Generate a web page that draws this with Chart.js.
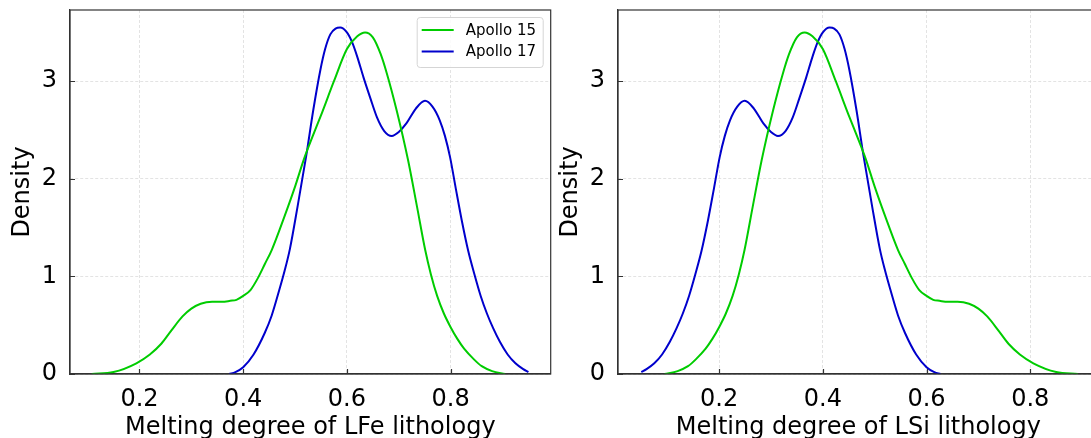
<!DOCTYPE html>
<html>
<head>
<meta charset="utf-8">
<script src="https://cdn.jsdelivr.net/npm/chart.js@4.4.1/dist/chart.umd.min.js"></script>
<style>
  html, body { margin: 0; padding: 0; background: #fff; }
  body { width: 1091px; height: 438px; overflow: hidden; position: relative; }
  .panel { position: absolute; top: 0; width: 560px; height: 438px; }
</style>
</head>
<body>
<div class="panel" style="left:0px"><canvas id="chart_lfe"></canvas></div>
<div class="panel" style="left:548px"><canvas id="chart_lsi"></canvas></div>
<script>
// density curves
var seriesNames = ['Apollo 15', 'Apollo 17'];
var seriesColors = ['#00cc00', '#0000cc'];

var lfeX15 = [0.108, 0.15, 0.194, 0.22, 0.242, 0.262, 0.283, 0.30, 0.318, 0.34, 0.359, 0.375, 0.387, 0.40, 0.414, 0.428, 0.442, 0.455, 0.48, 0.50, 0.517, 0.535, 0.55, 0.575, 0.60, 0.62, 0.635, 0.65, 0.665, 0.677, 0.696, 0.718, 0.735, 0.751, 0.762, 0.774, 0.787, 0.80, 0.813, 0.826, 0.845, 0.86, 0.88, 0.905];
var lfeY15 = [0, 0.02, 0.11, 0.2, 0.31, 0.45, 0.59, 0.67, 0.72, 0.74, 0.74, 0.75, 0.76, 0.80, 0.86, 0.98, 1.13, 1.27, 1.62, 1.92, 2.20, 2.45, 2.65, 3.0, 3.33, 3.46, 3.50, 3.45, 3.28, 3.08, 2.70, 2.19, 1.72, 1.27, 1.02, 0.80, 0.62, 0.48, 0.36, 0.26, 0.15, 0.08, 0.03, 0];

var lfeX17 = [0.373, 0.385, 0.40, 0.42, 0.4415, 0.455, 0.469, 0.48, 0.49, 0.505, 0.522, 0.535, 0.549, 0.558, 0.568, 0.578, 0.587, 0.60, 0.61, 0.62, 0.632, 0.645, 0.658, 0.672, 0.6865, 0.70, 0.715, 0.733, 0.7506, 0.765, 0.779, 0.789, 0.799, 0.81, 0.822, 0.834, 0.846, 0.858, 0.87, 0.882, 0.895, 0.91, 0.925, 0.94, 0.95];
var lfeY17 = [0, 0.02, 0.07, 0.2, 0.42, 0.60, 0.85, 1.06, 1.28, 1.72, 2.25, 2.70, 3.12, 3.33, 3.48, 3.54, 3.55, 3.50, 3.40, 3.25, 3.04, 2.83, 2.63, 2.49, 2.44, 2.48, 2.57, 2.72, 2.80, 2.74, 2.60, 2.44, 2.22, 1.90, 1.56, 1.26, 1.02, 0.80, 0.62, 0.47, 0.33, 0.20, 0.11, 0.05, 0.02];

var lsiX15 = [0.095, 0.12, 0.14, 0.155, 0.174, 0.187, 0.20, 0.213, 0.226, 0.238, 0.249, 0.265, 0.282, 0.304, 0.323, 0.335, 0.35, 0.365, 0.38, 0.40, 0.425, 0.45, 0.465, 0.483, 0.50, 0.52, 0.545, 0.558, 0.572, 0.586, 0.60, 0.613, 0.625, 0.641, 0.66, 0.682, 0.70, 0.717, 0.738, 0.758, 0.78, 0.806, 0.85, 0.892];
var lsiY15 = [0, 0.03, 0.08, 0.15, 0.26, 0.36, 0.48, 0.62, 0.80, 1.02, 1.27, 1.72, 2.19, 2.70, 3.08, 3.28, 3.45, 3.50, 3.46, 3.33, 3.0, 2.65, 2.45, 2.20, 1.92, 1.62, 1.27, 1.13, 0.98, 0.86, 0.80, 0.76, 0.75, 0.74, 0.74, 0.72, 0.67, 0.59, 0.45, 0.31, 0.2, 0.11, 0.02, 0];

var lsiX17 = [0.05, 0.06, 0.075, 0.09, 0.105, 0.118, 0.13, 0.142, 0.154, 0.166, 0.178, 0.19, 0.201, 0.211, 0.221, 0.235, 0.2494, 0.267, 0.285, 0.30, 0.3135, 0.328, 0.342, 0.355, 0.368, 0.38, 0.39, 0.40, 0.413, 0.422, 0.432, 0.442, 0.451, 0.465, 0.478, 0.495, 0.51, 0.52, 0.531, 0.545, 0.5585, 0.58, 0.60, 0.615, 0.627];
var lsiY17 = [0.02, 0.05, 0.11, 0.20, 0.33, 0.47, 0.62, 0.80, 1.02, 1.26, 1.56, 1.90, 2.22, 2.44, 2.60, 2.74, 2.80, 2.72, 2.57, 2.48, 2.44, 2.49, 2.63, 2.83, 3.04, 3.25, 3.40, 3.50, 3.55, 3.54, 3.48, 3.33, 3.12, 2.70, 2.25, 1.72, 1.28, 1.06, 0.85, 0.60, 0.42, 0.2, 0.07, 0.02, 0];

var xTickVals = [0.2, 0.4, 0.6, 0.8];
var yTickVals = [0, 1, 2, 3];

var FONT = "'DejaVu Sans', sans-serif";

function toPoints(xs, ys) {
    return xs.map(function(x, i) { return { x: x, y: ys[i] }; });
}

function makeDataset(i, xs, ys) {
    return {
        label: seriesNames[i],
        data: toPoints(xs, ys),
        borderColor: seriesColors[i],
        backgroundColor: seriesColors[i],
        borderWidth: 2,
        pointRadius: 0,
        fill: false,
        cubicInterpolationMode: 'monotone'
    };
}

// spines, inward ticks and the matplotlib-like legend
var framePlugin = {
    id: 'frame',
    afterDatasetsDraw: function(chart, args, opts) {
        var ctx = chart.ctx, a = chart.chartArea;
        var xs = chart.scales.x, ys = chart.scales.y;
        ctx.save();
        ctx.strokeStyle = '#333';
        ctx.lineWidth = 1.2;
        ctx.strokeRect(a.left, a.top, a.right - a.left, a.bottom - a.top);
        ctx.beginPath();
        xTickVals.forEach(function(v) {
            var px = Math.round(xs.getPixelForValue(v)) + 0.5;
            ctx.moveTo(px, a.bottom);
            ctx.lineTo(px, a.bottom - 5);
        });
        yTickVals.forEach(function(v) {
            var py = Math.round(ys.getPixelForValue(v)) + 0.5;
            ctx.moveTo(a.left, py);
            ctx.lineTo(a.left + 5, py);
        });
        ctx.stroke();

        if (opts.legend) {
            var bx = a.right - 134, by = a.top + 7, bw = 126, bh = 50;
            ctx.fillStyle = 'rgba(255,255,255,0.85)';
            ctx.strokeStyle = '#d5d5d5';
            ctx.lineWidth = 1;
            ctx.beginPath();
            ctx.roundRect(bx + 0.5, by + 0.5, bw, bh, 3);
            ctx.fill();
            ctx.stroke();
            ctx.font = '15px ' + FONT;
            ctx.textBaseline = 'middle';
            ctx.textAlign = 'left';
            chart.data.datasets.forEach(function(ds, i) {
                var ly = by + 13 + i * 21.5;
                ctx.strokeStyle = ds.borderColor;
                ctx.lineWidth = 2;
                ctx.beginPath();
                ctx.moveTo(bx + 5, ly);
                ctx.lineTo(bx + 37, ly);
                ctx.stroke();
                ctx.fillStyle = '#000';
                ctx.fillText(ds.label, bx + 49, ly + 1);
            });
        }
        ctx.restore();
    }
};

function makeChart(id, datasets, xMin, xMax, xTitle, showLegend) {
    return new Chart(document.getElementById(id), {
        type: 'line',
        data: { datasets: datasets },
        options: {
            animation: false,
            responsive: true,
            maintainAspectRatio: false,
            layout: { padding: { left: 0, top: 10, right: 9.3, bottom: 0 } },
            plugins: {
                legend: { display: false },
                tooltip: { enabled: false },
                frame: { legend: showLegend }
            },
            scales: {
                x: {
                    type: 'linear',
                    min: xMin,
                    max: xMax,
                    afterBuildTicks: function(scale) {
                        scale.ticks = xTickVals.map(function(v) { return { value: v }; });
                    },
                    afterFit: function(scale) {
                        scale.height = 64;
                        scale.paddingLeft = 0;
                        scale.paddingRight = 0;
                    },
                    grid: { color: '#dcdcdc', lineWidth: 0.8, drawTicks: false },
                    border: { display: true, color: '#333', width: 1.2, dash: [3, 2] },
                    ticks: {
                        color: '#000',
                        padding: 11,
                        maxRotation: 0,
                        font: { family: FONT, size: 24 },
                        callback: function(v) { return v.toFixed(1); }
                    },
                    title: {
                        display: true,
                        text: xTitle,
                        color: '#000',
                        font: { family: FONT, size: 24, lineHeight: 1 },
                        padding: { top: 0, bottom: -2 }
                    }
                },
                y: {
                    type: 'linear',
                    min: 0,
                    max: 3.73,
                    afterBuildTicks: function(scale) {
                        scale.ticks = yTickVals.map(function(v) { return { value: v }; });
                    },
                    afterFit: function(scale) {
                        scale.width = 70;
                        scale.paddingTop = 0;
                        scale.paddingBottom = 0;
                    },
                    grid: { color: '#dcdcdc', lineWidth: 0.8, drawTicks: false },
                    border: { display: true, color: '#333', width: 1.2, dash: [3, 2] },
                    ticks: {
                        color: '#000',
                        padding: 13,
                        font: { family: FONT, size: 24 },
                        callback: function(v) { return String(v); }
                    },
                    title: {
                        display: true,
                        text: 'Density',
                        color: '#000',
                        font: { family: FONT, size: 24, lineHeight: 1 },
                        padding: { top: 11, bottom: 0 }
                    }
                }
            }
        },
        plugins: [framePlugin]
    });
}

var chartLFe = makeChart('chart_lfe', [
    makeDataset(0, lfeX15, lfeY15),
    makeDataset(1, lfeX17, lfeY17)
], 0.066, 0.993, 'Melting degree of LFe lithology', true);

var chartLSi = makeChart('chart_lsi', [
    makeDataset(0, lsiX15, lsiY15),
    makeDataset(1, lsiX17, lsiY17)
], 0.005, 0.932, 'Melting degree of LSi lithology', false);
</script>
</body>
</html>
